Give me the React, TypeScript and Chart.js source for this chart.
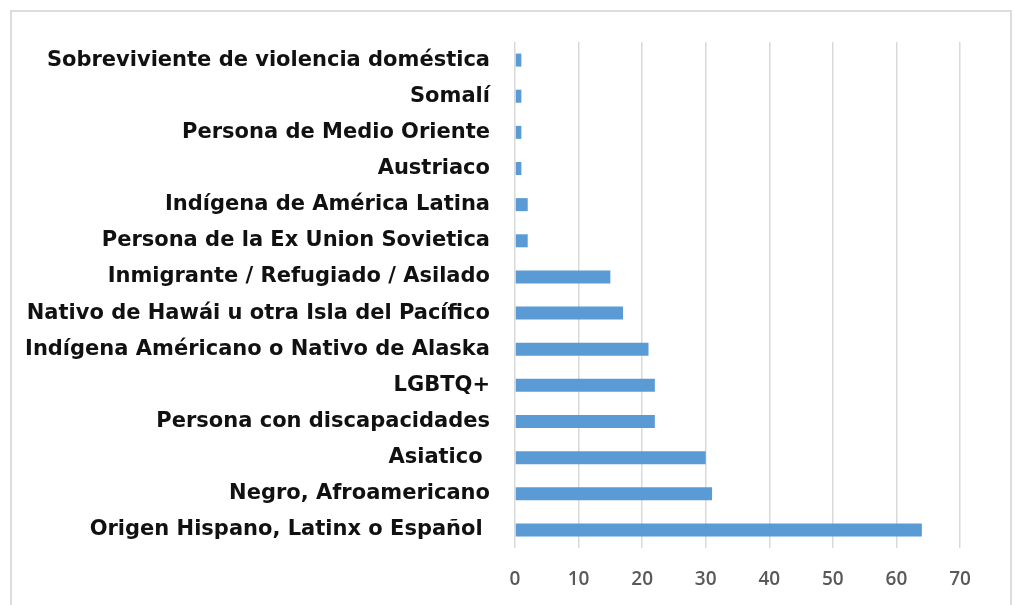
import React, { useEffect, useRef } from "react";
import { Chart, registerables } from "chart.js";

Chart.register(...registerables);

const categories: string[] = [
  "Sobreviviente de violencia doméstica",
  "Somalí",
  "Persona de Medio Oriente",
  "Austriaco",
  "Indígena de América Latina",
  "Persona de la Ex Union Sovietica",
  "Inmigrante / Refugiado / Asilado",
  "Nativo de Hawái u otra Isla del Pacífico",
  "Indígena Américano o Nativo de Alaska",
  "LGBTQ+",
  "Persona con discapacidades",
  "Asiatico ",
  "Negro, Afroamericano",
  "Origen Hispano, Latinx o Español ",
];

const counts: number[] = [1, 1, 1, 1, 2, 2, 15, 17, 21, 22, 22, 30, 31, 64];

const xMin = 0;
const xMax = 70;
const xStep = 10;

export default function App() {
  const canvasRef = useRef<HTMLCanvasElement | null>(null);

  useEffect(() => {
    if (!canvasRef.current) return;
    const chart = new Chart(canvasRef.current, {
      type: "bar",
      data: {
        labels: categories,
        datasets: [
          {
            data: counts,
            backgroundColor: "#5b9bd5",
            borderWidth: 0,
            barPercentage: 0.36,
            categoryPercentage: 1,
          },
        ],
      },
      options: {
        indexAxis: "y",
        animation: false,
        responsive: false,
        maintainAspectRatio: false,
        layout: { padding: { top: 30, right: 50, bottom: 0, left: 0 } },
        plugins: {
          legend: { display: false },
          tooltip: { enabled: false },
        },
        scales: {
          x: {
            min: xMin,
            max: xMax,
            ticks: {
              stepSize: xStep,
              color: "#595959",
              font: { family: "'Open Sans', sans-serif", size: 19, weight: "600" },
              padding: 20,
            },
            grid: {
              color: "#d9d9d9",
              lineWidth: 1.5,
              drawTicks: false,
            },
            border: { display: false },
            afterFit: (scale: any) => {
              scale.height = 57;
            },
          },
          y: {
            ticks: {
              color: "#111111",
              font: { family: "'DejaVu Sans', sans-serif", size: 21, weight: "bold" },
              padding: 25,
              autoSkip: false,
            },
            grid: { display: false, drawTicks: false },
            border: { display: false },
            afterFit: (scale: any) => {
              scale.width = 503;
              scale.paddingTop = 0;
              scale.paddingBottom = 0;
            },
          },
        },
      },
    });
    return () => chart.destroy();
  }, []);

  return (
    <div
      style={{
        position: "absolute",
        left: 10,
        top: 10,
        width: 1002,
        height: 595,
        borderTop: "2px solid #dcdcdc",
        borderLeft: "2px solid #dcdcdc",
        borderRight: "2px solid #dcdcdc",
        boxSizing: "border-box",
        background: "#fff",
      }}
    >
      <canvas ref={canvasRef} width={998} height={593} style={{ display: "block" }} />
    </div>
  );
}
